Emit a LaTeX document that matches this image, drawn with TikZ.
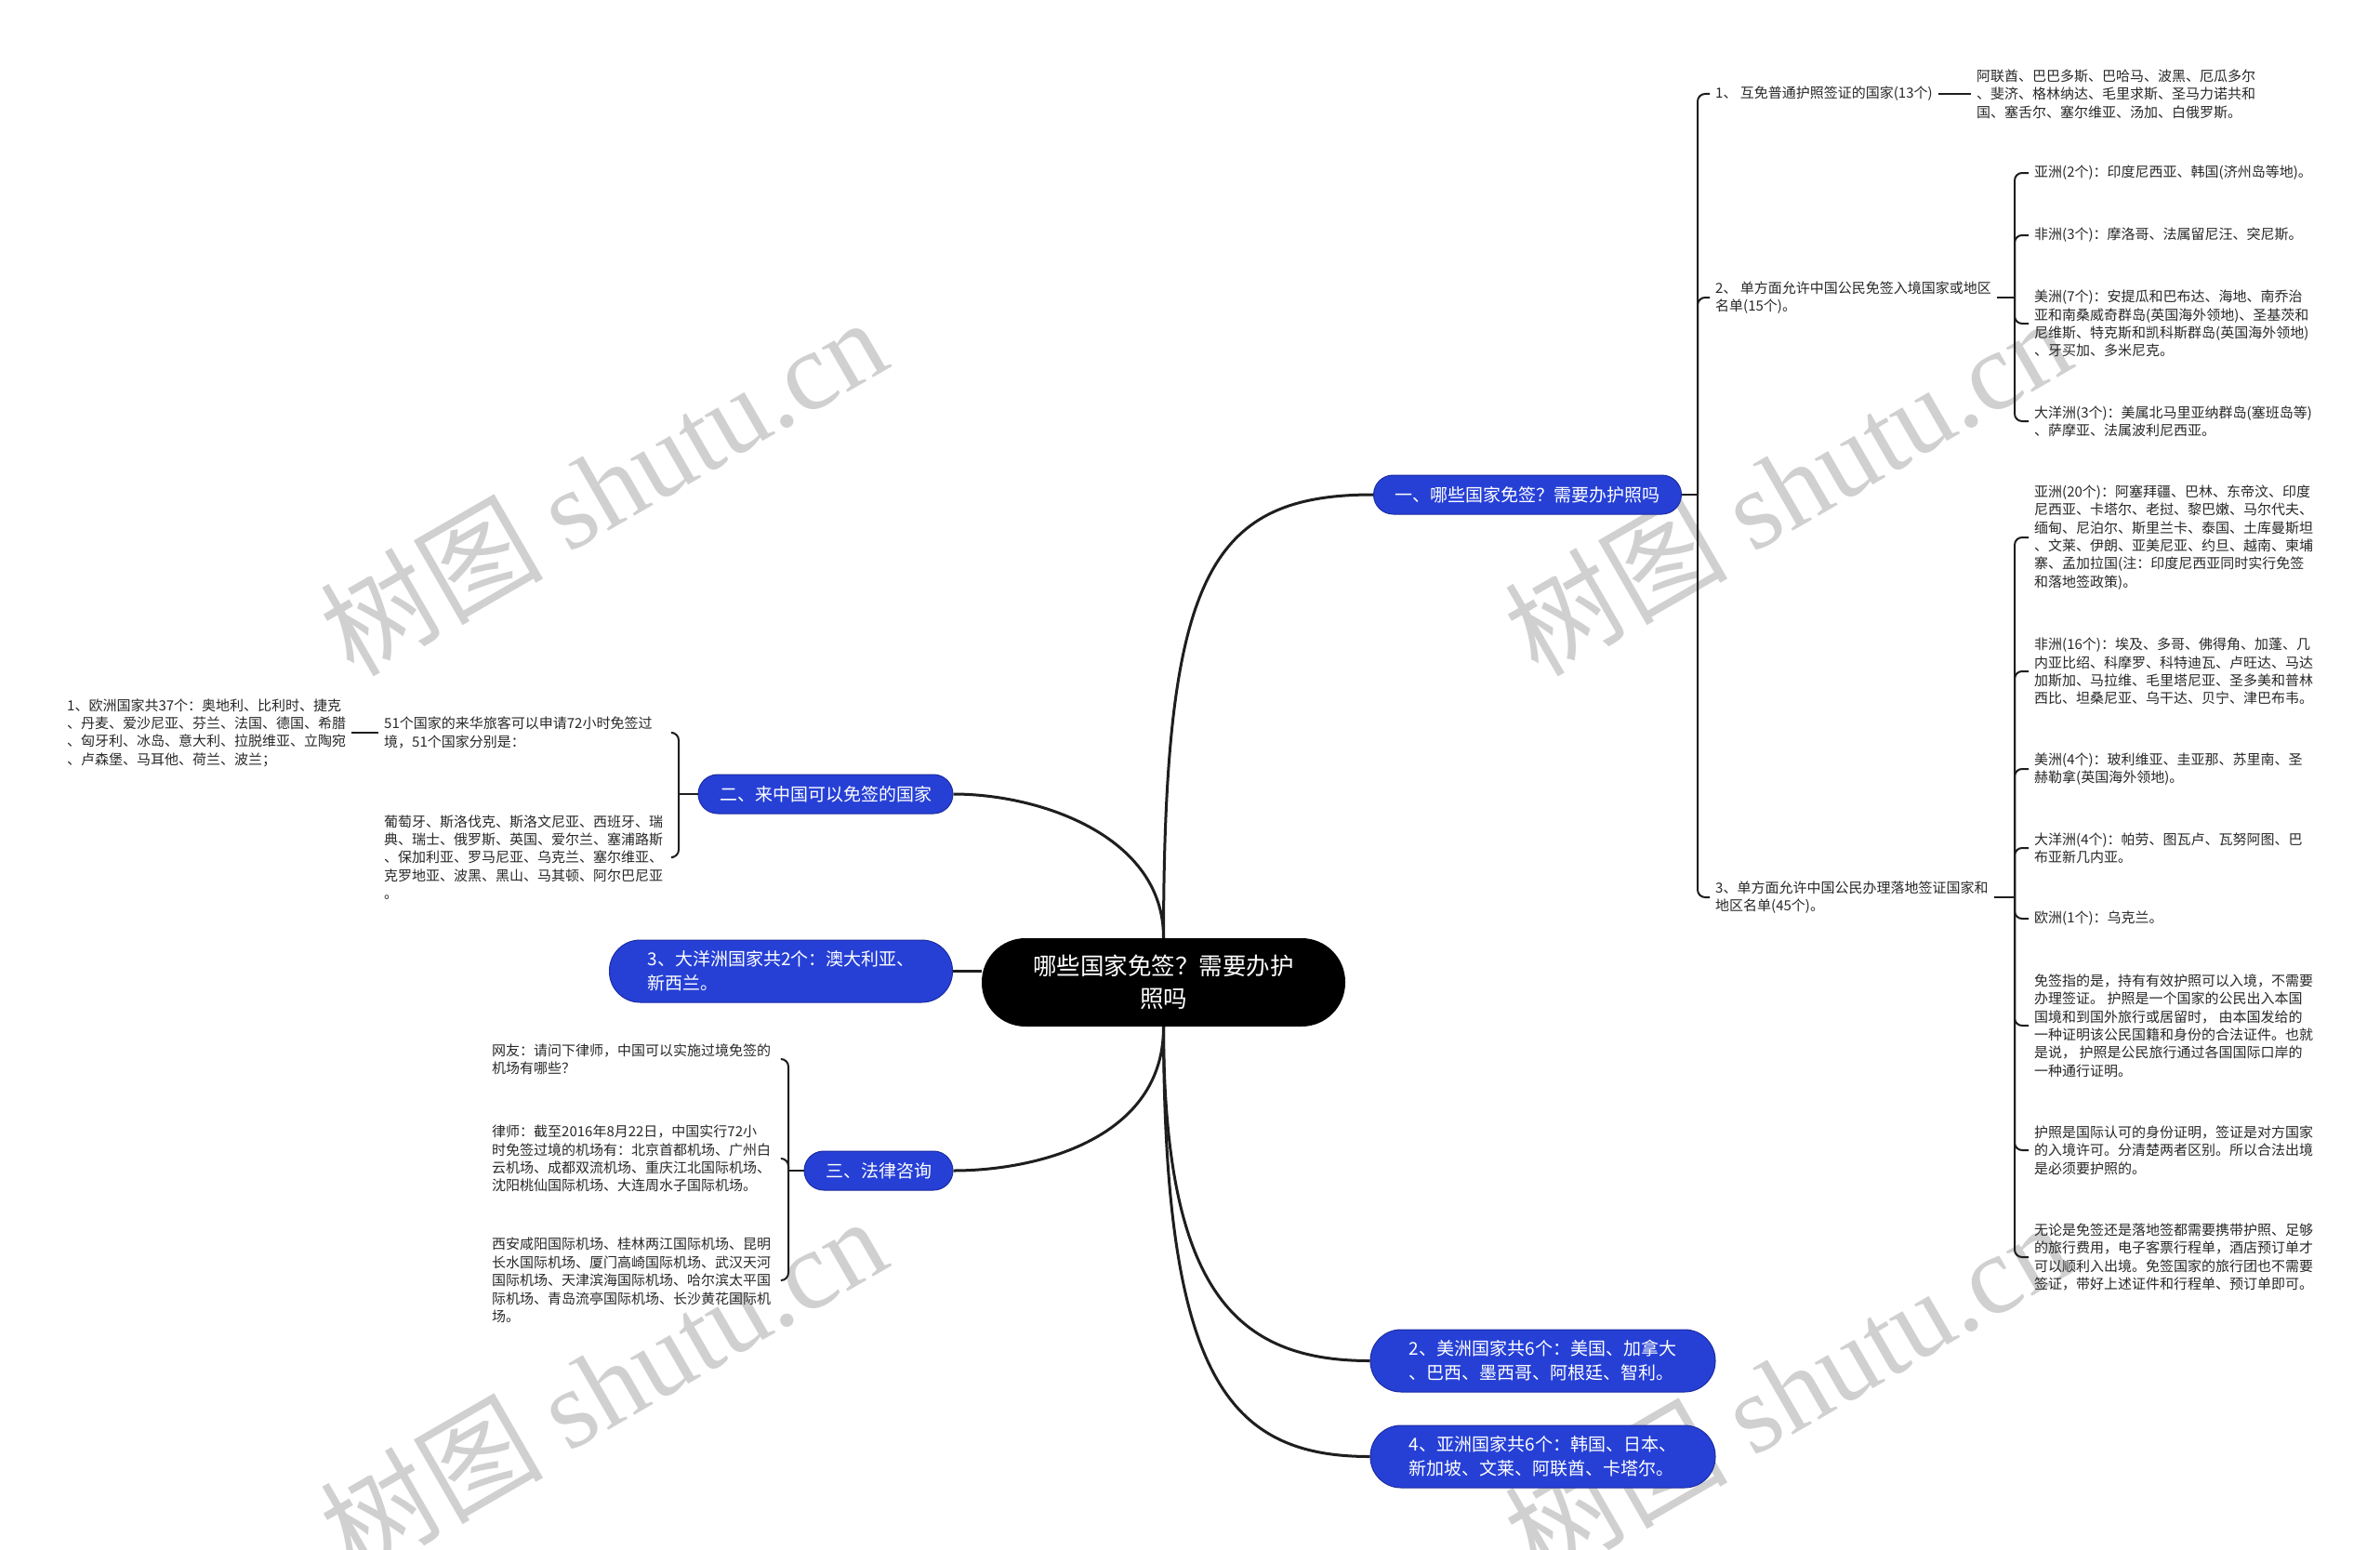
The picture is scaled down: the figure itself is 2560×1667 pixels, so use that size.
\documentclass[tikz,border=0pt]{standalone}
\usepackage{fontspec}
\setmainfont{Noto Sans CJK SC}
\newfontfamily\wmserif{Liberation Serif}
\usetikzlibrary{calc}
\definecolor{nodeblue}{RGB}{38,64,214}
\definecolor{blueborder}{RGB}{28,44,160}
\definecolor{lineblack}{RGB}{30,30,30}
\definecolor{txt}{RGB}{40,40,40}
\definecolor{wm}{RGB}{208,208,208}
\tikzset{
  smalltxt/.style={anchor=west, align=left, inner xsep=6pt, inner ysep=0pt, text=txt,
    font=\fontsize{15}{19.4}\selectfont},
  lefttxt/.style={smalltxt, text width=305pt},
  bluenode/.style={fill=nodeblue, draw=blueborder, line width=1pt, text=white, align=left,
    inner sep=0pt, font=\fontsize{19}{26}\selectfont},
  rootnode/.style={fill=black, text=white, align=center, inner sep=0pt,
    font=\fontsize{25.5}{35}\selectfont, minimum width=391pt, minimum height=95pt, rounded corners=47pt},
  mainline/.style={draw=lineblack, line width=3pt},
  brline/.style={draw=lineblack, line width=2pt, rounded corners=8pt},
  wmark/.style={text=wm, rotate=30, inner sep=0pt, font=\fontsize{120}{120}\selectfont}
}
\begin{document}
\begin{tikzpicture}[x=1pt, y=-1pt]
\fill[white] (0,0) rectangle (2560,1667);
\useasboundingbox (0,0) rectangle (2560,1667);

% watermarks
\node[wmark] (wm1) at (648,522) {树图 {\wmserif shutu.cn}};
\node[wmark] (wm2) at (1922,522) {树图 {\wmserif shutu.cn}};
\node[wmark] (wm3) at (648,1489) {树图 {\wmserif shutu.cn}};
\node[wmark] (wm4) at (1922,1494) {树图 {\wmserif shutu.cn}};

% main nodes
\node[rootnode] (root) at (1251.5,1056.5) {哪些国家免签？需要办护\\照吗};
\node[bluenode, minimum width=331pt, minimum height=42pt, rounded corners=21pt] (n1) at (1643,532) {一、哪些国家免签？需要办护照吗};
\node[bluenode, minimum width=274pt, minimum height=42pt, rounded corners=21pt] (n2) at (888,854) {二、来中国可以免签的国家};
\node[bluenode, minimum width=369pt, minimum height=67pt, rounded corners=33pt] (n3) at (840,1044.5) {3、大洋洲国家共2个：澳大利亚、\\新西兰。};
\node[bluenode, minimum width=160pt, minimum height=42pt, rounded corners=21pt] (n4) at (945,1259) {三、法律咨询};
\node[bluenode, minimum width=371pt, minimum height=67pt, rounded corners=33pt] (n5) at (1659.5,1463.5) {2、美洲国家共6个：美国、加拿大\\、巴西、墨西哥、阿根廷、智利。};
\node[bluenode, minimum width=371pt, minimum height=67pt, rounded corners=33pt] (n6) at (1659.5,1566.5) {4、亚洲国家共6个：韩国、日本、\\新加坡、文莱、阿联酋、卡塔尔。};

% main connectors
\draw[mainline] (root.north) .. controls (1252,620) and (1300,532) .. (n1.west);
\draw[mainline] (root.north) .. controls (1252,900) and (1120,854) .. (n2.east);
\draw[mainline] (n3.east) -- (n3.east -| root.west);
\draw[mainline] (root.south) .. controls (1252,1225) and (1115,1259) .. (n4.east);
\draw[mainline] (root.south) .. controls (1252,1390) and (1330,1463.5) .. (n5.west);
\draw[mainline] (root.south) .. controls (1252,1480) and (1320,1566.5) .. (n6.west);

% right side level 2
\node[smalltxt] (c1) at (1839,101) {1、\ 互免普通护照签证的国家(13个)};
\node[smalltxt] (c1a) at (2120,101) {阿联酋、巴巴多斯、巴哈马、波黑、厄瓜多尔\\、斐济、格林纳达、毛里求斯、圣马力诺共和\\国、塞舌尔、塞尔维亚、汤加、白俄罗斯。};
\node[smalltxt] (c2) at (1839,320) {2、\ 单方面允许中国公民免签入境国家或地区\\名单(15个)。};
\node[smalltxt] (c3) at (1839,965) {3、单方面允许中国公民办理落地签证国家和\\地区名单(45个)。};

\node[smalltxt] (c2a) at (2182,186) {亚洲(2个)：印度尼西亚、韩国(济州岛等地)。};
\node[smalltxt] (c2b) at (2182,253) {非洲(3个)：摩洛哥、法属留尼汪、突尼斯。};
\node[smalltxt] (c2c) at (2182,348) {美洲(7个)：安提瓜和巴布达、海地、南乔治\\亚和南桑威奇群岛(英国海外领地)、圣基茨和\\尼维斯、特克斯和凯科斯群岛(英国海外领地)\\、牙买加、多米尼克。};
\node[smalltxt] (c2d) at (2182,453) {大洋洲(3个)：美属北马里亚纳群岛(塞班岛等)\\、萨摩亚、法属波利尼西亚。};

\node[smalltxt] (c3a) at (2182,578) {亚洲(20个)：阿塞拜疆、巴林、东帝汶、印度\\尼西亚、卡塔尔、老挝、黎巴嫩、马尔代夫、\\缅甸、尼泊尔、斯里兰卡、泰国、土库曼斯坦\\、文莱、伊朗、亚美尼亚、约旦、越南、柬埔\\寨、孟加拉国(注：印度尼西亚同时实行免签\\和落地签政策)。};
\node[smalltxt] (c3b) at (2182,722) {非洲(16个)：埃及、多哥、佛得角、加蓬、几\\内亚比绍、科摩罗、科特迪瓦、卢旺达、马达\\加斯加、马拉维、毛里塔尼亚、圣多美和普林\\西比、坦桑尼亚、乌干达、贝宁、津巴布韦。};
\node[smalltxt] (c3c) at (2182,827) {美洲(4个)：玻利维亚、圭亚那、苏里南、圣\\赫勒拿(英国海外领地)。};
\node[smalltxt] (c3d) at (2182,912) {大洋洲(4个)：帕劳、图瓦卢、瓦努阿图、巴\\布亚新几内亚。};
\node[smalltxt] (c3e) at (2182,988) {欧洲(1个)：乌克兰。};
\node[smalltxt] (c3f) at (2182,1103) {免签指的是，持有有效护照可以入境，不需要\\办理签证。 护照是一个国家的公民出入本国\\国境和到国外旅行或居留时， 由本国发给的\\一种证明该公民国籍和身份的合法证件。也就\\是说， 护照是公民旅行通过各国国际口岸的\\一种通行证明。};
\node[smalltxt] (c3g) at (2182,1237) {护照是国际认可的身份证明，签证是对方国家\\的入境许可。分清楚两者区别。所以合法出境\\是必须要护照的。};
\node[smalltxt] (c3h) at (2182,1352) {无论是免签还是落地签都需要携带护照、足够\\的旅行费用，电子客票行程单，酒店预订单才\\可以顺利入出境。免签国家的旅行团也不需要\\签证，带好上述证件和行程单、预订单即可。};

% right brackets
\coordinate (b1) at (1826,532);
\draw[brline] (n1.east) -- (b1);
\draw[brline] (b1) |- (c1.west);
\draw[brline] (b1) |- (c2.west);
\draw[brline] (b1) |- (c3.west);
\draw[brline] (c1.east) -- (c1a.west);

\coordinate (b2) at (2167,320);
\draw[brline] (c2.east) -- (b2);
\foreach \c in {c2a,c2b,c2c,c2d} \draw[brline] (b2) |- (\c.west);

\coordinate (b3) at (2167,965);
\draw[brline] (c3.east) -- (b3);
\foreach \c in {c3a,c3b,c3c,c3d,c3e,c3f,c3g,c3h} \draw[brline] (b3) |- (\c.west);

% left side
\node[smalltxt] (l0) at (66,788) {1、欧洲国家共37个：奥地利、比利时、捷克\\、丹麦、爱沙尼亚、芬兰、法国、德国、希腊\\、匈牙利、冰岛、意大利、拉脱维亚、立陶宛\\、卢森堡、马耳他、荷兰、波兰；};
\node[lefttxt] (l1) at (407,788) {51个国家的来华旅客可以申请72小时免签过\\境，51个国家分别是：};
\node[lefttxt] (l2) at (407,922) {葡萄牙、斯洛伐克、斯洛文尼亚、西班牙、瑞\\典、瑞士、俄罗斯、英国、爱尔兰、塞浦路斯\\、保加利亚、罗马尼亚、乌克兰、塞尔维亚、\\克罗地亚、波黑、黑山、马其顿、阿尔巴尼亚\\。};
\coordinate (bl) at (730,854);
\draw[brline] (n2.west) -- (bl);
\draw[brline] (bl) |- (l1.east);
\draw[brline] (bl) |- (l2.east);
\draw[brline] (l0.east) -- (l1.west);

\node[lefttxt] (m1) at (523,1139) {网友：请问下律师，中国可以实施过境免签的\\机场有哪些？};
\node[lefttxt] (m2) at (523,1246) {律师：截至2016年8月22日，中国实行72小\\时免签过境的机场有：北京首都机场、广州白\\云机场、成都双流机场、重庆江北国际机场、\\沈阳桃仙国际机场、大连周水子国际机场。};
\node[lefttxt] (m3) at (523,1377) {西安咸阳国际机场、桂林两江国际机场、昆明\\长水国际机场、厦门高崎国际机场、武汉天河\\国际机场、天津滨海国际机场、哈尔滨太平国\\际机场、青岛流亭国际机场、长沙黄花国际机\\场。};
\coordinate (bm) at (848,1259);
\draw[brline] (n4.west) -- (bm);
\draw[brline] (bm) |- (m1.east);
\draw[brline] (bm) |- (m2.east);
\draw[brline] (bm) |- (m3.east);
\end{tikzpicture}
\end{document}
